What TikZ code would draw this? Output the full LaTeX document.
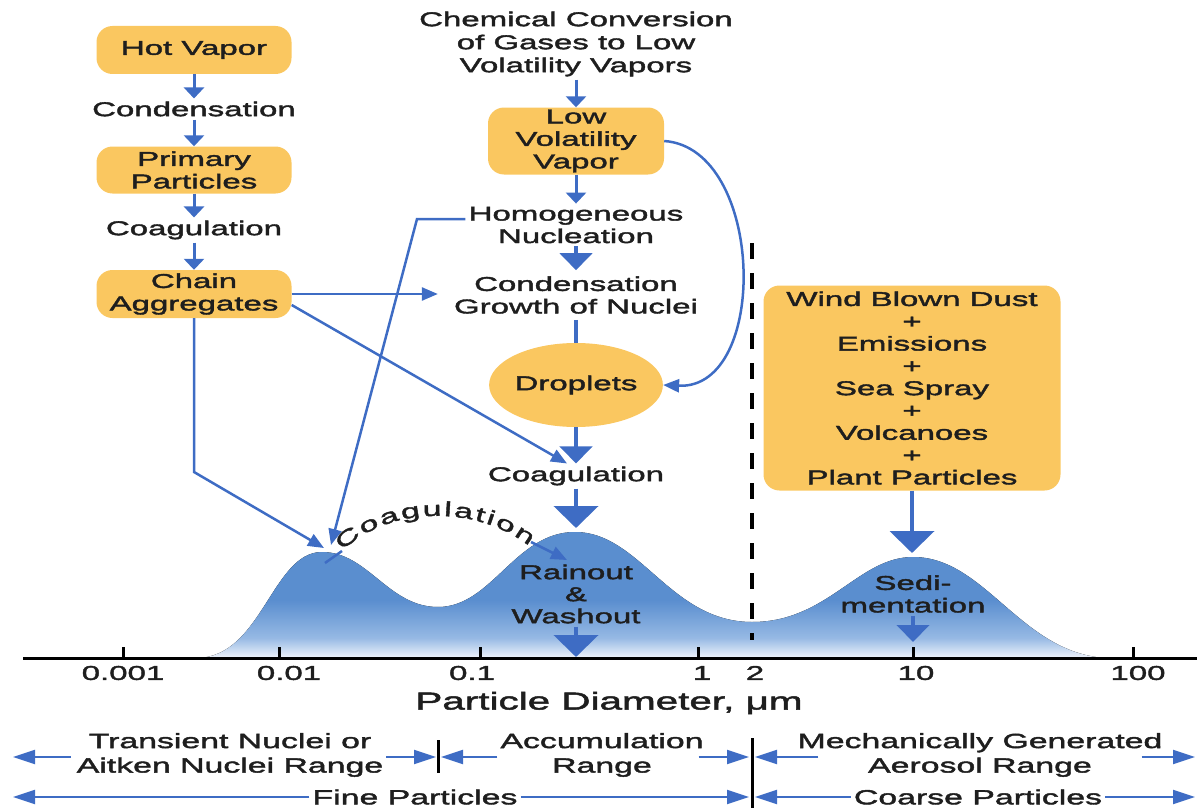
\documentclass[tikz,border=0pt]{standalone}
\usepackage{fontspec}
\setmainfont{Liberation Sans}[FakeStretch=1.65,FakeBold=2]
\usepackage{tikz}
\usetikzlibrary{arrows.meta,shapes.geometric,decorations.text}
\usepackage{xcolor}
\definecolor{boxfill}{RGB}{250,199,96}
\definecolor{flowblue}{RGB}{62,108,196}
\definecolor{humpblue}{RGB}{90,142,207}
\definecolor{humpmid}{RGB}{150,185,228}
\definecolor{humppale}{RGB}{240,244,251}
\definecolor{ink}{RGB}{30,30,30}
\pgfdeclareverticalshading{humpshade}{100bp}{color(0bp)=(humppale); color(25bp)=(humppale);
  color(33bp)=(humpmid); color(48bp)=(humpblue); color(100bp)=(humpblue)}

\begin{document}
\begin{tikzpicture}[x=1pt,y=-1pt,
  every node/.style={font=\fontsize{20}{22.5}\selectfont,text=ink},
  srcbox/.style={fill=boxfill,rounded corners=16pt,align=center,inner sep=2pt},
  proc/.style={align=center,inner sep=3pt},
  smallflow/.style={draw=flowblue,line width=3pt,-{Triangle[width=20pt,length=11pt]}},
  bigflow/.style={draw=flowblue,line width=4.5pt,-{Triangle[width=32pt,length=17pt]}},
  hugeflow/.style={draw=flowblue,line width=4.5pt,-{Triangle[width=44pt,length=22pt]}},
  thinflow/.style={draw=flowblue,line width=2.5pt,-{Triangle[width=13pt,length=16pt]}},
  rangeflow/.style={draw=flowblue,line width=2pt,-{Triangle[width=14pt,length=22pt]}},
  cutline/.style={line width=4pt,dash pattern=on 16pt off 14pt}]
  \useasboundingbox (0,0) rectangle (1197,808);

  % size distribution ---------------------------------------------------------
  \fill[shading=humpshade]
        (197,658) .. controls (262,657) and (272,552) .. (322,552)
        .. controls (368,552) and (388,607) .. (438,607)
        .. controls (492,607) and (515,532) .. (575,532)
        .. controls (640,532) and (670,622) .. (752,622)
        .. controls (828,622) and (858,557) .. (913,557)
        .. controls (985,557) and (1020,652) .. (1105,658) -- cycle;

  % axis ----------------------------------------------------------------------
  \draw[line width=3pt] (23,658) -- (1197,658);
  \foreach \xpos in {123,279,480,698,913,1133}
    \draw[line width=3pt] (\xpos,647) -- (\xpos,658);
  \foreach \xpos/\lbl [count=\i] in {123/0.001,289/0.01,472/0.1,702/1,755/2,916/10,1138/100}
    \node (ticklbl\i) at (\xpos,673) {\lbl};
  \node[font=\fontsize{24.5}{28}\selectfont] (axistitle) at (609,703) {Particle Diameter, μm};

  \draw[cutline] (752,243) -- (752,640);

  %----------------------------------------------------------------------------%
  %  primary particles  -------------------------------------------------------%
  \node[srcbox,minimum width=195pt,minimum height=48pt] (hotvapor) at (194,50) {Hot Vapor};
  \node[proc] (condense) at (194,109) {Condensation};
  \node[srcbox,minimum width=195pt,minimum height=47pt] (primary) at (194,170) {Primary\\Particles};
  \node[proc] (coagleft) at (194,230) {Coagulation};
  \node[srcbox,minimum width=195pt,minimum height=48pt] (chain) at (194,294) {Chain\\Aggregates};

  \draw[smallflow] (hotvapor) -- (condense);
  \draw[smallflow] (condense) -- (primary);
  \draw[smallflow] (primary) -- (coagleft);
  \draw[smallflow] (coagleft) -- (chain);

  %----------------------------------------------------------------------------%
  %  secondary particles  -----------------------------------------------------%
  \node[proc,font=\fontsize{20}{23}\selectfont] (chem) at (576,44)
        {Chemical Conversion\\of Gases to Low\\Volatility Vapors};
  \node[srcbox,minimum width=176pt,minimum height=67pt] (lowvol) at (576,141)
        {Low\\Volatility\\Vapor};
  \node[proc] (homog) at (576,225) {Homogeneous\\Nucleation};
  \node[proc,inner ysep=6pt] (growth) at (576,295) {Condensation\\Growth of Nuclei};
  \node[ellipse,fill=boxfill,minimum width=156pt,minimum height=84pt,inner sep=0pt]
        (droplets) at (576,385) {Droplets};
  \node[proc] (coagmid) at (576,476) {Coagulation};
  \node[proc,font=\fontsize{20}{22}\selectfont] (rainout) at (576,594) {Rainout\\\&\\Washout};

  \draw[smallflow] (chem) -- (lowvol);
  \draw[smallflow] (lowvol) -- (homog);
  \draw[bigflow] (homog) -- (growth);
  \draw[draw=flowblue,line width=4.5pt] (growth) -- (droplets);
  \draw[bigflow] (droplets) -- (coagmid);
  \coordinate (peaktwo) at (576,528);
  \draw[hugeflow] (coagmid) -- (peaktwo);
  \coordinate (rainbase) at (576,657);
  \draw[hugeflow] (rainout) -- (rainbase);
  \draw[thinflow] (lowvol.east) .. controls (765,148) and (770,390) .. (droplets.east);

  % links from the chain aggregates and the nuclei
  \coordinate (chainbend) at (194,472);
  \coordinate (peakone) at (324,548);
  \coordinate (homogbend) at (417,219);
  \coordinate (nucleiin) at (331,545);
  \draw[thinflow] (chain.east) -- ([xshift=-13pt]chain.east -| growth.west);
  \draw[thinflow] ([yshift=-11pt]chain.east) -- ([xshift=-9pt]coagmid.north);
  \draw[thinflow] (chain.south) -- (chainbend) -- (peakone);
  \draw[thinflow] ([yshift=6pt]homog.west) -- (homogbend) -- (nucleiin);

  % coagulation between the modes
  \coordinate (arcfoot) at (325,563);
  \coordinate (arcleft) at (342,551);
  \coordinate (arcright) at (529,546);
  \coordinate (arcend) at (531,542);
  \coordinate (rainin) at (567,560);
  \draw[draw=flowblue,line width=2.5pt] (arcfoot) -- (arcleft);
  \path[decorate,decoration={text along path,text align={fit to path},
        text={|\fontsize{20.5}{22}\selectfont\color{ink}|Coagulation}}]
        (arcleft) .. controls (392,504) and (478,506) .. (arcright);
  \draw[thinflow] (arcend) -- (rainin);

  %----------------------------------------------------------------------------%
  %  coarse particles  --------------------------------------------------------%
  \node[srcbox,minimum width=297pt,minimum height=205pt,font=\fontsize{20}{22.3}\selectfont]
        (sources) at (912,388)
        {Wind Blown Dust\\+\\Emissions\\+\\Sea Spray\\+\\Volcanoes\\+\\Plant Particles};
  \node[proc] (sediment) at (913,594) {Sedi-\\mentation};
  \coordinate (peakthree) at (912,553);
  \coordinate (sedbase) at (913,642);
  \draw[hugeflow] (sources) -- (peakthree);
  \draw[bigflow] (sediment) -- (sedbase);

  %----------------------------------------------------------------------------%
  %  size ranges  -------------------------------------------------------------%
  \node[proc,font=\fontsize{20.5}{24.5}\selectfont] (transient) at (230,755)
        {Transient Nuclei or\\Aitken Nuclei Range};
  \node[proc,font=\fontsize{20.5}{24.5}\selectfont] (accum) at (602,755) {Accumulation\\Range};
  \node[proc,font=\fontsize{20.5}{24.5}\selectfont] (mech) at (980,755)
        {Mechanically Generated\\Aerosol Range};
  \node[proc,font=\fontsize{20.5}{24.5}\selectfont] (fine) at (415,797) {Fine Particles};
  \node[proc,font=\fontsize{20.5}{24.5}\selectfont] (coarse) at (978,797) {Coarse Particles};

  \coordinate (divonetop) at (438,740);
  \coordinate (divonebot) at (438,773);
  \coordinate (divtwotop) at (752,738);
  \coordinate (divtwobot) at (752,808);
  \draw[line width=3pt] (divonetop) -- (divonebot);
  \draw[line width=3pt] (divtwotop) -- (divtwobot);

  \coordinate (leftone) at (13,757);
  \coordinate (divoneL) at (436,757);
  \coordinate (divoneR) at (441,757);
  \coordinate (divtwoL) at (749,757);
  \coordinate (divtwoR) at (755,757);
  \coordinate (rightone) at (1195,757);
  \coordinate (lefttwo) at (13,797);
  \coordinate (divtwoLL) at (749,797);
  \coordinate (divtwoRR) at (755,797);
  \coordinate (righttwo) at (1195,797);

  \draw[rangeflow] ([xshift=-3pt]transient.west |- leftone) -- (leftone);
  \draw[rangeflow] (transient.east |- leftone) -- (divoneL);
  \draw[rangeflow] (accum.west |- leftone) -- (divoneR);
  \draw[rangeflow] ([xshift=-8pt]accum.east |- leftone) -- (divtwoL);
  \draw[rangeflow] ([xshift=24pt]mech.west |- leftone) -- (divtwoR);
  \draw[rangeflow] ([xshift=-24pt]mech.east |- leftone) -- (rightone);
  \draw[rangeflow] (fine.west) -- (lefttwo);
  \draw[rangeflow] (fine.east) -- (divtwoLL);
  \draw[rangeflow] (coarse.west) -- (divtwoRR);
  \draw[rangeflow] (coarse.east) -- (righttwo);
\end{tikzpicture}
\end{document}
